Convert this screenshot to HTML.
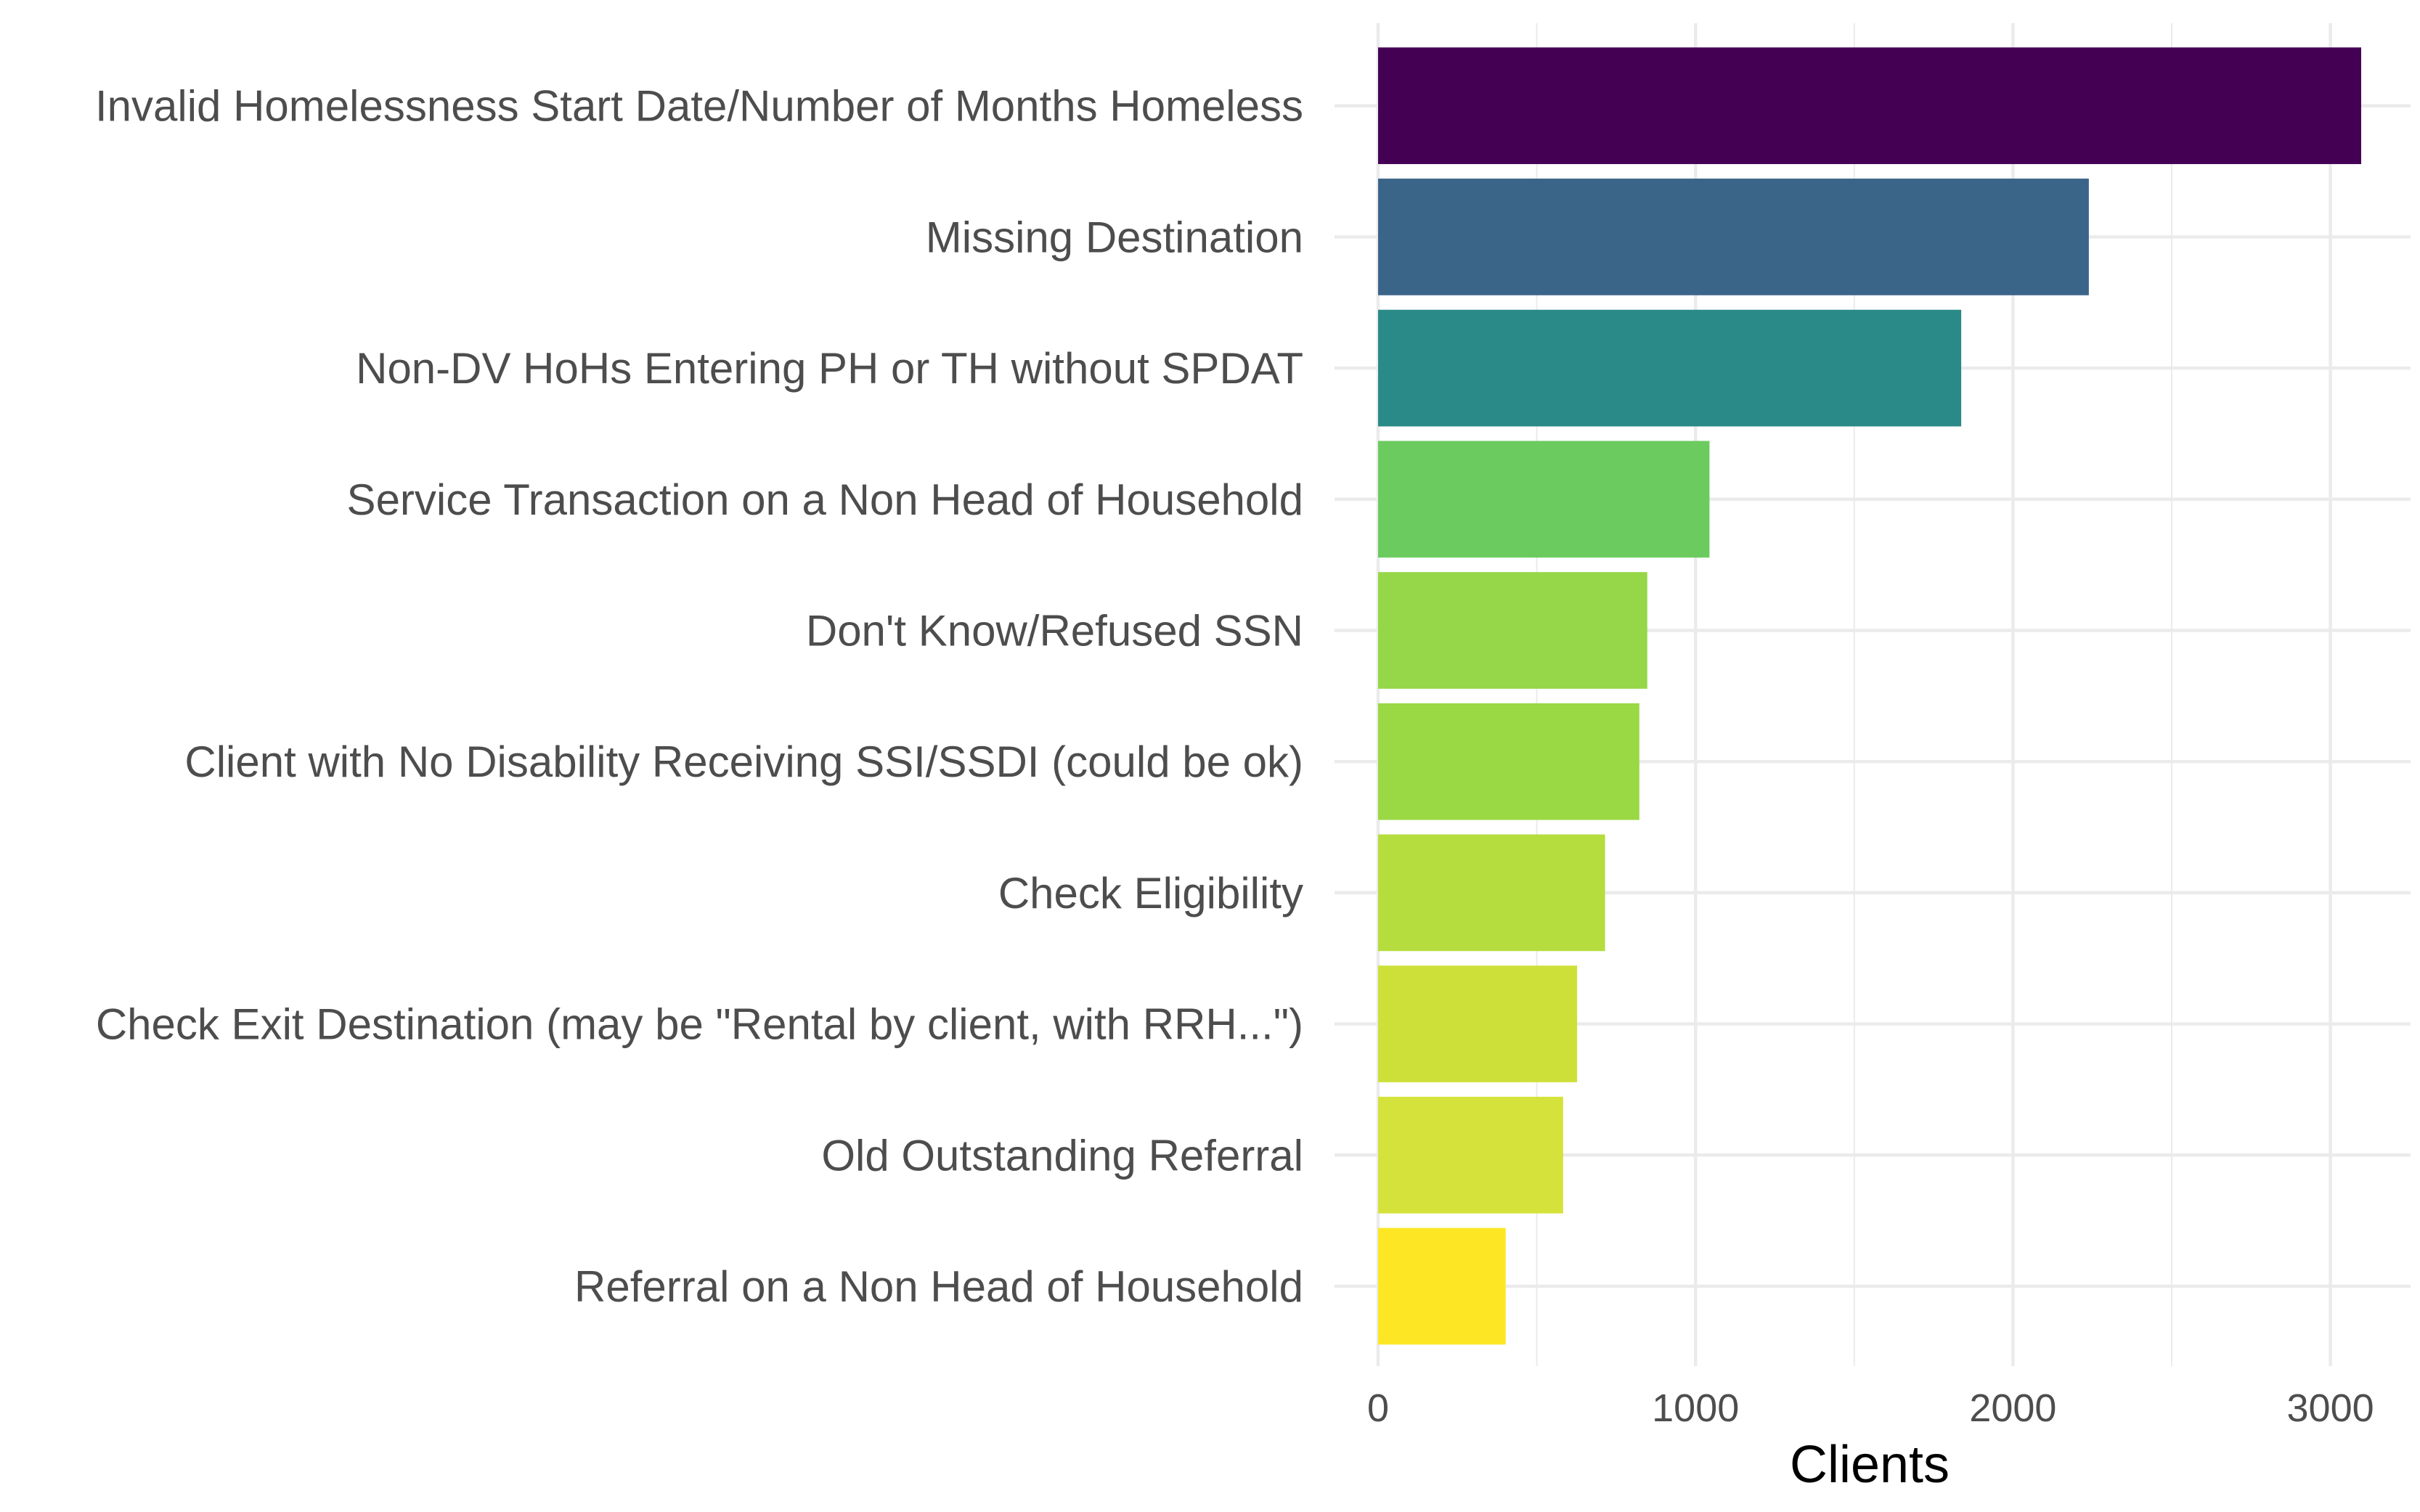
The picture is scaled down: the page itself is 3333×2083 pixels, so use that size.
<!DOCTYPE html>
<html><head><meta charset="utf-8"><style>
body{margin:0;background:#fff;}
svg{display:block;font-family:"Liberation Sans",Arial,sans-serif;}
</style></head><body>
<svg id="chart" width="3333" height="2083" viewBox="0 0 3333 2083" xmlns="http://www.w3.org/2000/svg">
<rect width="3333" height="2083" fill="#fff"/>
<g id="grid"></g>
<g id="bars"></g>
<g id="ylabels"></g>
<g id="xlabels"></g>
<text x="2575" y="2042" font-size="72" fill="#000" text-anchor="middle">Clients</text>
</svg>
<script>
const categories = ["Invalid Homelessness Start Date/Number of Months Homeless","Missing Destination","Non-DV HoHs Entering PH or TH without SPDAT","Service Transaction on a Non Head of Household","Don't Know/Refused SSN","Client with No Disability Receiving SSI/SSDI (could be ok)","Check Eligibility","Check Exit Destination (may be \"Rental by client, with RRH...\")","Old Outstanding Referral","Referral on a Non Head of Household"];
const values = [3097,2239,1837,1044,848,823,715,627,583,402];
const colors = ["#440154","#3b6489","#2a8a88","#6ccb5f","#95d748","#9ad844","#b5dd3d","#cde03a","#d5e23b","#fde725"];
const xTicks = [0,1000,2000,3000];
const xTickLabels = ["0","1000","2000","3000"];
const minorTicks = [500,1500,2500];

const NS="http://www.w3.org/2000/svg";
const panel={left:1838,right:3320,top:32,bottom:1882};
const x=v=>1898+v*0.4372;
const y=i=>145.7+i*180.7;
const barH=160.7;
function mk(tag,attrs,parent){const e=document.createElementNS(NS,tag);for(const k in attrs)e.setAttribute(k,attrs[k]);parent.appendChild(e);return e;}
const grid=document.getElementById('grid');
minorTicks.forEach(t=>{
  const l=mk('line',{x1:x(t),x2:x(t),y1:panel.top,y2:panel.bottom,stroke:'#ebebeb','stroke-width':2},grid);
  
  
});
xTicks.forEach(t=>{
  const l=mk('line',{x1:x(t),x2:x(t),y1:panel.top,y2:panel.bottom,stroke:'#ebebeb','stroke-width':4.5},grid);
  
  
});
categories.forEach((c,i)=>{
  const l=mk('line',{x1:panel.left,x2:panel.right,y1:y(i),y2:y(i),stroke:'#ebebeb','stroke-width':4.5},grid);
  
  
});
const bars=document.getElementById('bars');
values.forEach((v,i)=>{
  const r=mk('rect',{x:x(0),y:y(i)-barH/2,width:x(v)-x(0),height:barH,fill:colors[i]},bars);
  
  
});
const yl=document.getElementById('ylabels');
categories.forEach((c,i)=>{
  const t=mk('text',{x:1795,y:y(i)+21,'font-size':60,fill:'#4d4d4d','text-anchor':'end'},yl);
  t.textContent=c;
  
  
});
const xl=document.getElementById('xlabels');
xTicks.forEach((t,i)=>{
  const e=mk('text',{x:x(t),y:1958,'font-size':54,fill:'#4d4d4d','text-anchor':'middle'},xl);
  e.textContent=xTickLabels[i];
  
  
});
</script>
</body></html>
